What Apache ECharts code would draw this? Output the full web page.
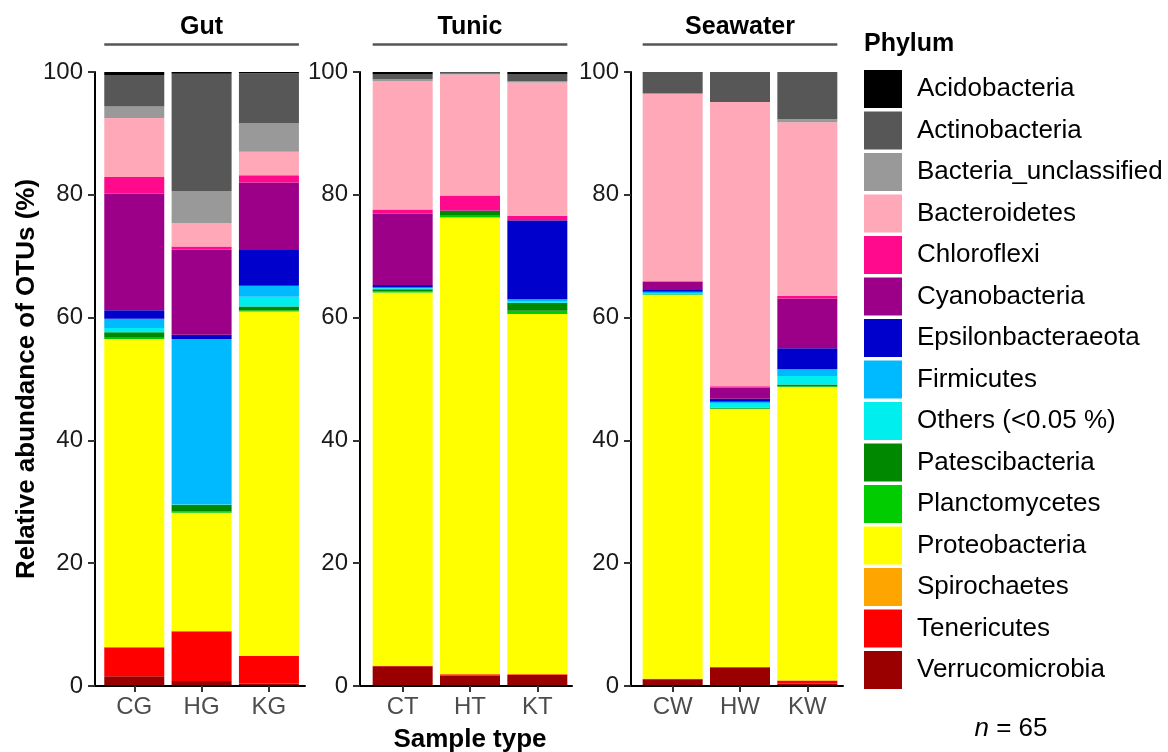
<!DOCTYPE html>
<html>
<head>
<meta charset="utf-8">
<script src="https://cdn.jsdelivr.net/npm/echarts@6/dist/echarts.min.js"></script>
<style>
html,body{margin:0;padding:0;background:#fff;}
#chart{width:1168px;height:752px;}
</style>
</head>
<body>
<div id="chart"></div>
<script>
// ---- data ----
const samples = ['CG','HG','KG','CT','HT','KT','CW','HW','KW'];
const panelNames = ['Gut','Tunic','Seawater'];
const phyla = ['Acidobacteria','Actinobacteria','Bacteria_unclassified','Bacteroidetes','Chloroflexi',
  'Cyanobacteria','Epsilonbacteraeota','Firmicutes','Others (<0.05 %)','Patescibacteria',
  'Planctomycetes','Proteobacteria','Spirochaetes','Tenericutes','Verrucomicrobia'];
const phylumColors = ['#000000','#575757','#999999','#FFA8B8','#FF0A8C',
  '#9C0088','#0000CC','#00BAFF','#00EEEE','#008800',
  '#00CC00','#FFFF00','#FFA500','#FF0000','#9B0000'];

const acidobacteria      = [0.5, 0.3, 0.2, 0.4, 0.1, 0.4, 0.1, 0.0, 0.0];
const actinobacteria     = [5.1, 19.1, 8.1, 0.8, 0.2, 1.1, 3.4, 4.9, 7.7];
const bacteriaUnclass    = [1.9, 5.2, 4.7, 0.3, 0.1, 0.2, 0.0, 0.0, 0.5];
const bacteroidetes      = [9.6, 3.8, 3.8, 20.9, 19.7, 21.7, 30.6, 46.3, 28.3];
const chloroflexi        = [2.7, 0.5, 1.2, 0.7, 2.4, 0.7, 0.1, 0.2, 0.4];
const cyanobacteria      = [19.0, 13.9, 11.0, 11.6, 0.1, 0.1, 1.3, 1.8, 8.1];
const epsilonbacteraeota = [1.4, 0.7, 5.8, 0.4, 0.0, 12.8, 0.3, 0.5, 3.4];
const firmicutes         = [1.5, 26.9, 1.8, 0.1, 0.0, 0.3, 0.2, 0.2, 1.1];
const others             = [0.7, 0.1, 1.6, 0.2, 0.0, 0.3, 0.2, 0.8, 1.4];
const patescibacteria    = [0.9, 1.1, 0.6, 0.3, 0.8, 1.3, 0.05, 0.1, 0.3];
const planctomycetes     = [0.2, 0.2, 0.2, 0.2, 0.3, 0.5, 0.05, 0.1, 0.1];
const proteobacteria     = [50.2, 19.3, 56.1, 60.8, 74.4, 58.7, 62.5, 42.0, 47.8];
const spirochaetes       = [0.0, 0.0, 0.0, 0.0, 0.0, 0.0, 0.0, 0.0, 0.0];
const tenericutes        = [4.7, 8.1, 4.5, 0.1, 0.2, 0.1, 0.1, 0.1, 0.5];
const verrucomicrobia    = [1.6, 0.8, 0.4, 3.2, 1.7, 1.8, 1.1, 3.0, 0.4];

const yTicks = [0, 20, 40, 60, 80, 100];

const phylumValues = [acidobacteria, actinobacteria, bacteriaUnclass, bacteroidetes, chloroflexi,
  cyanobacteria, epsilonbacteraeota, firmicutes, others, patescibacteria,
  planctomycetes, proteobacteria, spirochaetes, tenericutes, verrucomicrobia];

// ---- layout ----
const FONT = 'Liberation Sans, Arial, Helvetica, sans-serif';
const TOP = 72, BOTTOM = 66, PLOT_H = 752 - TOP - BOTTOM;
const frameLeft = [95, 360, 631];
const frameWidth = [210, 212, 212];
const barLeft = [100.6, 369.0, 639.0];
const barAreaW = 202;
const BAR_W = 60;

const grids = [], xAxes = [], yAxes = [], series = [], graphics = [];
for (let p = 0; p < 3; p++) {
  // frame grid (axis lines + y labels)
  grids.push({left: frameLeft[p], top: TOP, width: frameWidth[p], height: PLOT_H});
  // bar grid
  grids.push({left: barLeft[p], top: TOP, width: barAreaW, height: PLOT_H});
  const gf = 2 * p, gb = 2 * p + 1;
  xAxes.push({gridIndex: gf, type: 'value', min: 0, max: 1, z: 10,
    axisLine: {show: true, onZero: false, lineStyle: {color: '#000', width: 2}},
    axisTick: {show: false}, axisLabel: {show: false}, splitLine: {show: false}});
  yAxes.push({gridIndex: gf, type: 'value', min: 0, max: 100, interval: 20, z: 10,
    axisLine: {show: true, lineStyle: {color: '#000', width: 2}},
    axisTick: {show: true, length: 7, lineStyle: {color: '#333', width: 2}},
    axisLabel: {fontSize: 24, color: '#1a1a1a', fontFamily: FONT, margin: 12,
      customValues: yTicks},
    splitLine: {show: false}});
  const cats = samples.slice(3 * p, 3 * p + 3);
  xAxes.push({gridIndex: gb, type: 'category', data: cats, z: 10,
    axisLine: {show: false},
    axisTick: {show: true, alignWithLabel: true, length: 6, lineStyle: {color: '#333', width: 2}},
    axisLabel: {fontSize: 24, color: '#4d4d4d', fontFamily: FONT, margin: 9}});
  yAxes.push({gridIndex: gb, type: 'value', min: 0, max: 100, show: false});

  for (let k = phyla.length - 1; k >= 0; k--) {
    series.push({
      name: phyla[k], type: 'bar', stack: 'panel' + p,
      xAxisIndex: 2 * p + 1, yAxisIndex: 2 * p + 1,
      barWidth: BAR_W,
      itemStyle: {color: phylumColors[k]},
      emphasis: {disabled: true},
      data: phylumValues[k].slice(3 * p, 3 * p + 3)
    });
  }

  // strip title and line
  const unit = barAreaW / 3;
  const x0 = barLeft[p] + unit / 2 - BAR_W / 2;
  const x1 = barLeft[p] + 2.5 * unit + BAR_W / 2;
  graphics.push({type: 'text', left: 'center', x: (x0 + x1) / 2, y: 27,
    style: {text: panelNames[p], font: 'bold 25px ' + FONT, fill: '#000',
      textAlign: 'center', textVerticalAlign: 'middle'}});
  graphics.push({type: 'line', shape: {x1: x0, y1: 44.5, x2: x1, y2: 44.5},
    style: {stroke: '#555', lineWidth: 2.5}});
}
// strip titles: remove 'left' key so x is used
graphics.forEach(g => { delete g.left; });

// axis titles
graphics.push({type: 'text', x: 27, y: TOP + PLOT_H / 2, rotation: Math.PI / 2,
  style: {text: 'Relative abundance of OTUs (%)', font: 'bold 26px ' + FONT, fill: '#000',
    textAlign: 'center', textVerticalAlign: 'middle'}});
graphics.push({type: 'text', x: barLeft[1] + barAreaW / 2, y: 740,
  style: {text: 'Sample type', font: 'bold 26px ' + FONT, fill: '#000',
    textAlign: 'center', textVerticalAlign: 'middle'}});
// legend title
graphics.push({type: 'text', x: 864, y: 44,
  style: {text: 'Phylum', font: 'bold 25px ' + FONT, fill: '#000',
    textAlign: 'left', textVerticalAlign: 'middle'}});
// n = 65
graphics.push({type: 'text', x: 1011, y: 729,
  style: {text: '{i|n} = 65', font: '26px ' + FONT, fill: '#000',
    textAlign: 'center', textVerticalAlign: 'middle',
    rich: {i: {fontStyle: 'italic', fontSize: 26, fontFamily: FONT, fill: '#000'}}}});

const chart = echarts.init(document.getElementById('chart'), null, {renderer: 'canvas'});
chart.setOption({
  animation: false,
  backgroundColor: '#fff',
  textStyle: {fontFamily: FONT},
  grid: grids,
  xAxis: xAxes,
  yAxis: yAxes,
  legend: {
    data: phyla, orient: 'vertical', left: 864, top: 70, padding: 0,
    itemWidth: 38, itemHeight: 38, itemGap: 3.5, icon: 'rect',
    selectedMode: false,
    textStyle: {fontSize: 26, color: '#000', fontFamily: FONT, padding: [0, 0, 0, 10]}
  },
  series: series,
  graphic: graphics
});
</script>
</body>
</html>
